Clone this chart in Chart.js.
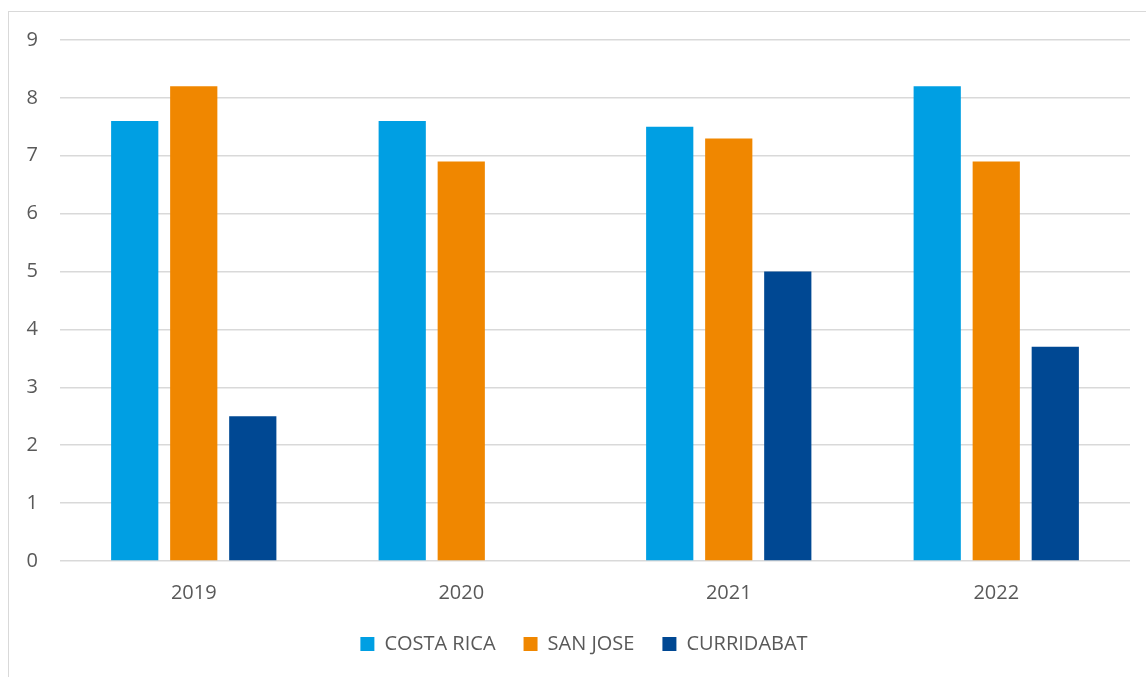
<!DOCTYPE html>
<html>
<head>
<meta charset="utf-8">
<script src="https://cdn.jsdelivr.net/npm/chart.js@4.4.1/dist/chart.umd.min.js"></script>
<style>
  html, body { margin: 0; padding: 0; background: #ffffff; overflow: hidden; }
  #frame { position: absolute; left: 8px; top: 11px; width: 1200px; height: 700px; border: 1.5px solid #d9d9d9; box-sizing: border-box; }
  #wrap { position: absolute; left: 0; top: 0; width: 1146px; height: 677px; }
</style>
</head>
<body>
<div id="frame"></div>
<div id="wrap"><canvas id="c" width="1146" height="677"></canvas></div>
<script>
const categories = ['2019', '2020', '2021', '2022'];
const seriesNames = ['COSTA RICA', 'SAN JOSE', 'CURRIDABAT'];
const costaRica = [7.6, 7.6, 7.5, 8.2];
const sanJose = [8.2, 6.9, 7.3, 6.9];
const curridabat = [2.5, null, 5.0, 3.7];
const yTicks = [0, 1, 2, 3, 4, 5, 6, 7, 8, 9];
const colors = ['#009FE3', '#F08700', '#004893'];

const textColor = '#595959';
const font = { family: '"Open Sans", "Noto Sans", sans-serif', size: 20 };

const shiftLegend = {
  id: 'shiftLegend',
  afterLayout(chart) {
    if (chart.legend) { chart.legend.left += 19; chart.legend.right += 19; }
  }
};

new Chart(document.getElementById('c'), {
  type: 'bar',
  data: {
    labels: categories,
    datasets: [
      { label: seriesNames[0], data: costaRica, backgroundColor: colors[0] },
      { label: seriesNames[1], data: sanJose, backgroundColor: colors[1] },
      { label: seriesNames[2], data: curridabat, backgroundColor: colors[2] }
    ]
  },
  plugins: [shiftLegend],
  options: {
    responsive: false,
    animation: false,
    events: [],
    categoryPercentage: 0.662,
    barPercentage: 0.8,
    layout: { padding: { left: 0, right: 16, top: 40, bottom: 13 } },
    scales: {
      x: {
        afterFit: (s) => { s.height = 45; },
        grid: { display: false, drawTicks: false },
        border: { display: false },
        ticks: { color: textColor, font: font, padding: 20 }
      },
      y: {
        min: 0,
        max: 9,
        afterBuildTicks: (s) => { s.ticks = yTicks.map(v => ({ value: v })); },
        afterFit: (s) => { s.width = 60; },
        grid: { color: '#d9d9d9', lineWidth: 1.5, drawTicks: false },
        border: { display: false },
        ticks: { color: textColor, font: font, padding: 22, stepSize: 1 }
      }
    },
    plugins: {
      legend: {
        position: 'bottom',
        labels: { color: textColor, font: font, boxWidth: 14, boxHeight: 14, padding: 28 }
      },
      tooltip: { enabled: false }
    }
  }
});
</script>
</body>
</html>
